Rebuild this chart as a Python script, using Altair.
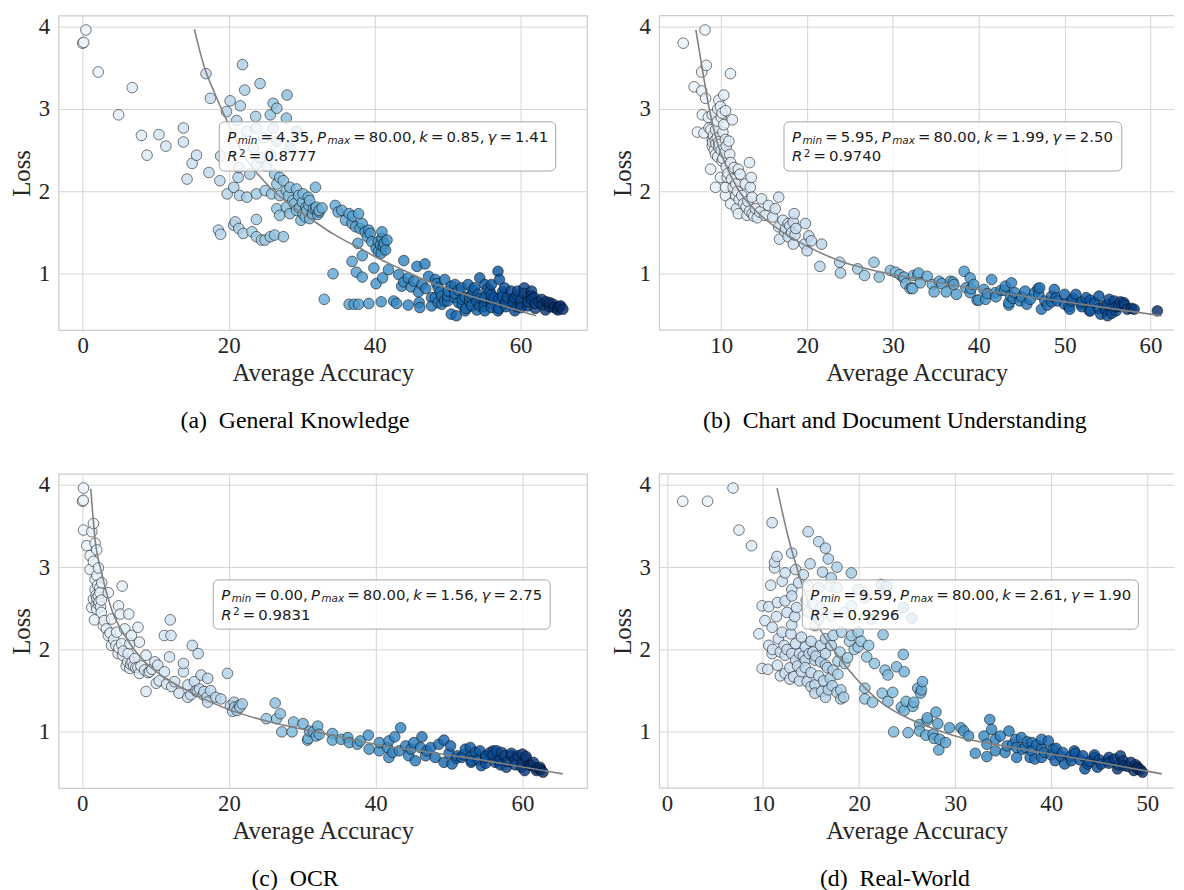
import altair as alt
import pandas as pd

SERIF = "Liberation Serif"
SANS = "DejaVu Sans"

# ---------------- data: (average accuracy, loss) ----------------
GK_POINTS = [
    (0.45, 3.96), (0.0, 3.80), (0.15, 3.81), (2.13, 3.45), (6.79, 3.26), (4.93, 2.93), (8.05, 2.68), (10.45, 2.69),
    (11.4, 2.55), (8.82, 2.44), (13.8, 2.77), (13.8, 2.60), (15.6, 2.44), (15.0, 2.34), (14.3, 2.15), (17.3, 2.23),
    (18.8, 2.13), (16.9, 3.43), (17.5, 3.13), (21.9, 3.54), (22.2, 3.23), (24.3, 3.31), (28.0, 3.17), (20.2, 3.10),
    (21.6, 3.04), (19.7, 2.97), (21.1, 2.86), (23.7, 2.91), (26.1, 3.07), (26.6, 3.01), (25.7, 2.93), (27.9, 2.89),
    (22.5, 2.73), (23.8, 2.77), (24.8, 2.65), (26.1, 2.77), (23.4, 2.53), (24.3, 2.41), (25.7, 2.45), (23.8, 2.33),
    (26.6, 2.61), (28.4, 2.53), (29.3, 2.73), (18.9, 2.43), (21.4, 2.29), (25.2, 2.31), (21.3, 2.17), (22.9, 2.21),
    (19.8, 1.97), (20.7, 2.05), (21.5, 1.95), (22.5, 1.93), (23.8, 1.97), (25.0, 2.01), (25.9, 1.97), (26.6, 2.09),
    (27.5, 2.13), (27.9, 2.01), (28.4, 2.05), (29.3, 2.03), (30.2, 1.97), (31.9, 2.05), (31.1, 1.89), (32.0, 1.81),
    (30.2, 1.73), (29.3, 1.77), (28.4, 1.73), (27.0, 1.71), (27.9, 1.81), (28.8, 1.89), (26.6, 1.79), (30.6, 1.81),
    (31.5, 1.73), (32.4, 1.77), (29.9, 1.65), (31.1, 1.67), (26.3, 2.21), (27.0, 2.17), (23.8, 1.66), (20.9, 1.63),
    (20.7, 1.59), (21.4, 1.55), (22.0, 1.49), (23.2, 1.51), (23.8, 1.45), (24.5, 1.41), (25.0, 1.41), (25.7, 1.45),
    (26.3, 1.47), (27.5, 1.45), (18.6, 1.53), (18.9, 1.48), (34.3, 1.00), (33.1, 0.69), (34.6, 1.83), (35.5, 1.77),
    (30.1, 1.87), (31.0, 1.83), (31.9, 1.79), (32.4, 1.75), (30.5, 1.69), (36.5, 1.73), (37.8, 1.73), (36.0, 1.65),
    (36.9, 1.61), (37.4, 1.57), (38.3, 1.61), (38.7, 1.51), (39.2, 1.53), (39.4, 1.49), (39.6, 1.39), (37.7, 1.37),
    (41.0, 1.51), (40.5, 1.39), (41.2, 1.33), (41.5, 1.29), (40.5, 1.27), (41.7, 1.41), (40.2, 1.31), (41.0, 1.43),
    (36.9, 1.15), (38.3, 1.22), (39.9, 1.07), (37.5, 1.02), (38.3, 0.96), (41.1, 0.95), (40.2, 0.88), (41.9, 1.05),
    (43.7, 0.85), (44.0, 1.16), (43.3, 0.99), (44.6, 0.95), (45.8, 1.09), (46.9, 1.12), (45.4, 0.91), (46.5, 0.87),
    (47.4, 0.97), (48.3, 0.93), (48.7, 0.83), (49.6, 0.93), (48.3, 0.71), (49.2, 0.73), (50.1, 0.79), (51.0, 0.87),
    (51.9, 0.83), (52.8, 0.87), (53.7, 0.83), (54.4, 0.95), (55.1, 0.87), (55.8, 0.79), (56.9, 1.03), (57.1, 0.93),
    (57.8, 0.83), (58.7, 0.79), (59.6, 0.79), (60.5, 0.83), (61.5, 0.79), (61.0, 0.71), (61.9, 0.71), (62.9, 0.69),
    (63.8, 0.63), (64.6, 0.59), (65.5, 0.61), (65.8, 0.57), (65.1, 0.56), (63.4, 0.56), (36.5, 0.63), (37.2, 0.63),
    (37.8, 0.63), (39.2, 0.64), (40.9, 0.66), (42.6, 0.67), (43.0, 0.64), (44.6, 0.62), (46.1, 0.65), (46.2, 0.59),
    (47.8, 0.61), (49.2, 0.63), (50.5, 0.51), (51.2, 0.49), (52.4, 0.55), (53.3, 0.61), (54.4, 0.61), (55.1, 0.55),
    (56.0, 0.59), (56.9, 0.55), (57.8, 0.63), (59.2, 0.55), (60.1, 0.59), (61.0, 0.61), (52.4, 0.71), (53.3, 0.75),
    (51.0, 0.71), (49.6, 0.67), (55.1, 0.71), (56.4, 0.71), (58.2, 0.71), (59.2, 0.71), (56.0, 0.87), (54.2, 0.75),
    (48.7, 0.65), (47.8, 0.71), (49.0, 0.78), (50.0, 0.73), (51.0, 0.76), (52.0, 0.69), (53.0, 0.72), (54.0, 0.66),
    (55.0, 0.68), (56.0, 0.74), (57.0, 0.69), (58.0, 0.66), (59.0, 0.65), (60.0, 0.68), (61.0, 0.66), (62.0, 0.64),
    (63.0, 0.62), (64.0, 0.60), (65.0, 0.58), (52.0, 0.62), (54.0, 0.56), (56.0, 0.64), (58.0, 0.60), (60.0, 0.62),
    (62.0, 0.58), (63.5, 0.66), (64.5, 0.63), (61.5, 0.73), (60.5, 0.76), (59.5, 0.74), (57.5, 0.78), (55.5, 0.82),
    (53.5, 0.80), (51.5, 0.80), (50.5, 0.85), (48.5, 0.88), (47.0, 0.82), (46.0, 0.78), (45.0, 0.84), (44.0, 0.90),
    (29.0, 1.85), (29.7, 1.80), (30.7, 1.77), (31.6, 1.79), (32.8, 1.80), (32.2, 1.72), (30.9, 1.93), (29.6, 1.95),
    (28.2, 1.95), (27.0, 1.95), (40.8, 1.35), (41.3, 1.37), (40.9, 1.25), (39.0, 1.45), (38.0, 1.55), (37.0, 1.70),
    (35.0, 1.75), (50.0, 0.67), (51.5, 0.65), (53.0, 0.67), (54.5, 0.70), (56.0, 0.69), (57.5, 0.72), (59.0, 0.69),
    (61.5, 0.69), (62.5, 0.66), (64.0, 0.65), (65.3, 0.60), (52.5, 0.58), (55.0, 0.60), (57.0, 0.58), (59.5, 0.60),
]
GK_CURVE = [
    (15.3, 3.97), (16.6, 3.53), (18.0, 3.21), (19.8, 2.85), (22.0, 2.45), (24.8, 2.13), (28.4, 1.84), (30.0, 1.74),
    (32.0, 1.62), (34.2, 1.49), (36.0, 1.40), (37.8, 1.32), (40.0, 1.21), (43.3, 1.07), (47.8, 0.89), (52.4, 0.75),
    (56.9, 0.63), (62.1, 0.49),
]

CD_POINTS = [
    (8.12, 3.96), (5.58, 3.80), (8.27, 3.53), (7.73, 3.45), (11.08, 3.43), (6.85, 3.27), (7.73, 3.22), (8.19, 3.13),
    (10.3, 3.17), (9.73, 3.11), (9.92, 3.03), (7.81, 2.93), (8.96, 2.93), (10.1, 2.95), (11.3, 2.87), (9.54, 2.85),
    (7.23, 2.72), (8.0, 2.71), (8.58, 2.77), (9.35, 2.75), (10.3, 2.81), (8.96, 2.63), (9.54, 2.65), (10.5, 2.63),
    (10.9, 2.61), (8.96, 2.55), (9.73, 2.53), (9.35, 2.45), (10.4, 2.47), (8.77, 2.27), (10.1, 2.37), (11.1, 2.35),
    (11.5, 2.29), (12.0, 2.27), (13.3, 2.35), (9.92, 2.17), (10.7, 2.17), (12.2, 2.21), (13.5, 2.17), (9.35, 2.05),
    (10.5, 2.05), (11.7, 2.09), (12.8, 2.09), (13.4, 2.05), (10.5, 1.95), (11.7, 1.95), (12.4, 1.95), (13.6, 1.93),
    (14.7, 1.91), (16.7, 1.93), (11.1, 1.85), (11.8, 1.79), (12.9, 1.81), (14.0, 1.79), (12.0, 1.73), (13.0, 1.71),
    (13.6, 1.73), (15.5, 1.83), (16.3, 1.79), (15.1, 1.71), (16.0, 1.69), (17.2, 1.65), (17.8, 1.61), (18.5, 1.73),
    (18.4, 1.63), (19.8, 1.61), (16.7, 1.57), (17.4, 1.51), (16.8, 1.42), (18.6, 1.47), (18.4, 1.36), (19.7, 1.36),
    (20.2, 1.46), (20.5, 1.40), (20.0, 1.28), (21.7, 1.36), (21.5, 1.09), (23.8, 1.14), (23.9, 1.01), (25.9, 1.06),
    (26.7, 0.98), (27.8, 1.14), (28.4, 0.96), (29.7, 1.04), (30.3, 1.02), (31.3, 0.96), (32.0, 0.82), (32.4, 0.98),
    (31.5, 0.88), (38.3, 1.03), (41.5, 0.93), (32.9, 0.99), (32.3, 0.82), (34.8, 0.78), (37.4, 0.75), (39.1, 0.82),
    (40.0, 0.68), (42.6, 0.80), (43.5, 0.62), (46.9, 0.82), (35.7, 0.88), (37.0, 0.90), (30.8, 0.99), (31.2, 0.95),
    (32.2, 0.83), (33.0, 1.01), (33.2, 0.89), (34.0, 0.97), (34.6, 0.87), (35.4, 0.91), (36.2, 0.78), (36.7, 0.91),
    (37.1, 0.87), (39.0, 0.95), (38.5, 0.83), (39.0, 0.77), (39.8, 0.68), (39.4, 0.87), (40.6, 0.81), (40.8, 0.69),
    (41.9, 0.77), (43.1, 0.85), (43.8, 0.89), (43.5, 0.65), (43.7, 0.73), (44.2, 0.77), (44.8, 0.67), (45.4, 0.79),
    (45.6, 0.63), (46.5, 0.77), (47.1, 0.83), (47.3, 0.57), (47.7, 0.67), (48.5, 0.73), (48.8, 0.81), (49.2, 0.67),
    (50.0, 0.75), (50.6, 0.57), (50.8, 0.67), (51.3, 0.75), (51.9, 0.63), (52.5, 0.71), (52.9, 0.55), (53.5, 0.65),
    (54.0, 0.73), (54.2, 0.51), (54.6, 0.61), (55.2, 0.69), (55.0, 0.49), (55.8, 0.67), (56.0, 0.55), (56.3, 0.61),
    (56.9, 0.65), (57.3, 0.57), (58.1, 0.57), (60.8, 0.55), (45.0, 0.72), (46.0, 0.69), (47.0, 0.75), (48.0, 0.62),
    (49.0, 0.71), (50.0, 0.63), (51.0, 0.70), (52.0, 0.60), (53.0, 0.68), (54.0, 0.58), (55.0, 0.63), (56.0, 0.60),
    (57.0, 0.62), (57.8, 0.58), (53.0, 0.55), (55.5, 0.52), (54.8, 0.56), (56.5, 0.66), (52.0, 0.66), (50.5, 0.60),
    (48.5, 0.66), (44.0, 0.70), (42.0, 0.72), (41.0, 0.76), (43.0, 0.80),
    (8.5, 2.90), (8.8, 2.75), (9.1, 2.68), (9.4, 2.58), (9.7, 2.60), (9.2, 2.50), (9.6, 2.42), (10.0, 2.50),
    (10.2, 2.40), (10.6, 2.30), (10.8, 2.22), (11.2, 2.15), (11.4, 2.05), (11.9, 2.00), (12.1, 1.90), (12.6, 1.85),
    (13.1, 1.88), (13.3, 1.76), (13.8, 1.70), (14.2, 1.68), (14.5, 1.75), (9.0, 2.60), (9.3, 2.62), (9.8, 2.57),
    (10.2, 2.72), (10.6, 2.55), (10.0, 2.90), (10.5, 2.98), (9.6, 3.00), (11.0, 2.45), (17.5, 1.55), (18.0, 1.58),
    (18.2, 1.50), (17.8, 1.45), (18.7, 1.55),
]
CD_CURVE = [
    (7.05, 3.96), (7.8, 3.49), (8.6, 3.01), (9.5, 2.61), (10.5, 2.33), (12.0, 2.02), (14.3, 1.74), (17.4, 1.49),
    (20.1, 1.33), (24.0, 1.15), (27.8, 1.04), (32.8, 0.94), (40.0, 0.81), (50.0, 0.66), (61.3, 0.49),
]

OCR_POINTS = [
    (0.18, 3.96), (0.05, 3.80), (0.15, 3.81), (0.18, 3.45), (1.53, 3.53), (1.31, 3.43), (0.63, 3.26), (1.76, 3.29),
    (1.08, 3.14), (1.98, 3.21), (1.53, 3.07), (1.08, 2.97), (2.21, 2.99), (1.76, 2.85), (2.66, 2.81), (1.76, 2.73),
    (2.43, 2.69), (1.53, 2.61), (2.21, 2.55), (1.31, 2.51), (1.98, 2.49), (3.56, 2.69), (5.45, 2.77), (1.67, 2.36),
    (2.88, 2.29), (4.0, 2.37), (4.95, 2.53), (5.18, 2.43), (6.35, 2.43), (7.6, 2.27), (3.56, 2.17), (4.7, 2.21),
    (5.8, 2.25), (6.7, 2.17), (4.0, 2.05), (5.36, 2.07), (6.5, 2.07), (7.8, 2.09), (4.9, 1.95), (6.26, 1.95),
    (7.16, 1.89), (8.7, 1.93), (9.9, 1.85), (6.5, 1.77), (7.8, 1.71), (9.2, 1.73), (10.3, 1.81), (11.9, 1.91),
    (11.2, 1.73), (8.7, 1.49), (10.1, 1.59), (12.1, 2.17), (11.2, 2.17), (12.0, 2.36), (15.0, 2.05), (15.8, 1.95),
    (13.8, 1.83), (13.8, 1.73), (12.6, 1.61), (13.2, 1.47), (14.4, 1.57), (15.3, 1.61), (16.2, 1.69), (17.1, 1.65),
    (15.7, 1.49), (14.4, 1.42), (16.6, 1.49), (18.2, 1.42), (18.9, 1.40), (17.1, 1.36), (19.8, 1.71), (20.2, 1.32),
    (20.7, 1.36), (21.4, 1.32), (21.8, 1.34), (21.1, 1.26), (25.1, 1.16), (26.3, 1.35), (26.5, 1.16), (27.0, 1.22),
    (27.2, 1.00), (28.6, 1.00), (28.8, 1.12), (30.1, 1.10), (30.8, 0.92), (31.5, 1.00), (2.0, 2.62), (2.3, 2.58),
    (1.9, 2.66), (2.5, 2.52), (2.1, 2.78), (2.6, 2.60), (6.0, 1.80), (6.8, 1.85), (7.3, 1.78), (5.6, 1.98),
    (9.5, 1.76), (15.5, 1.50), (16.0, 1.52), (31.0, 1.01), (32.1, 1.07), (30.7, 0.90), (31.9, 0.95), (32.3, 0.97),
    (34.1, 0.98), (34.1, 0.90), (35.3, 0.91), (36.2, 0.93), (36.4, 0.87), (37.5, 0.85), (37.9, 0.89), (39.0, 0.96),
    (39.1, 0.79), (40.5, 0.77), (40.5, 0.87), (41.6, 0.81), (41.8, 0.89), (42.6, 0.94), (43.4, 1.05), (43.2, 0.77),
    (44.1, 0.83), (44.5, 0.71), (45.2, 0.87), (45.4, 0.65), (46.3, 0.94), (46.1, 0.81), (46.8, 0.71), (47.5, 0.81),
    (48.6, 0.85), (49.3, 0.90), (50.2, 0.83), (49.3, 0.63), (50.4, 0.61), (51.1, 0.71), (52.2, 0.79), (52.9, 0.81),
    (53.1, 0.65), (54.2, 0.77), (54.4, 0.59), (55.6, 0.75), (56.0, 0.77), (56.7, 0.65), (57.2, 0.75), (57.8, 0.57),
    (58.5, 0.71), (59.4, 0.71), (59.9, 0.57), (60.5, 0.67), (61.2, 0.59), (61.9, 0.53), (62.8, 0.51), (62.4, 0.57),
    (60.3, 0.53), (57.6, 0.71), (56.3, 0.63), (55.0, 0.71), (53.6, 0.75), (51.7, 0.69), (48.1, 0.69), (47.0, 0.77),
    (44.8, 0.79), (42.3, 0.75), (41.8, 0.69), (50.0, 0.74), (51.0, 0.68), (52.0, 0.72), (53.0, 0.70), (54.0, 0.66),
    (55.0, 0.69), (56.0, 0.72), (57.0, 0.66), (58.0, 0.64), (59.0, 0.66), (60.0, 0.63), (61.0, 0.60), (62.0, 0.56),
    (62.5, 0.54), (61.5, 0.63), (60.5, 0.70), (59.0, 0.60), (57.0, 0.60), (55.0, 0.62), (53.0, 0.63), (58.5, 0.74),
    (56.5, 0.77), (60.0, 0.73),
    (1.9, 2.55), (2.2, 2.65), (2.4, 2.75), (2.0, 2.90), (2.6, 2.45), (3.0, 2.35), (3.3, 2.25), (3.8, 2.20),
    (4.3, 2.12), (4.6, 2.05), (5.0, 2.02), (5.5, 1.93), (6.2, 1.85), (6.6, 1.82), (7.0, 1.80), (7.6, 1.78),
    (8.0, 1.80), (8.5, 1.75), (9.0, 1.72), (10.5, 1.62), (11.5, 1.58), (12.2, 1.55), (14.8, 1.45), (16.5, 1.45),
    (17.0, 1.42), (17.5, 1.50), (20.8, 1.30), (21.5, 1.30), (20.5, 1.25),
]
OCR_CURVE = [
    (1.17, 3.95), (1.76, 3.33), (2.66, 2.93), (4.0, 2.49), (5.8, 2.17), (8.1, 1.89), (11.2, 1.66), (14.8, 1.48),
    (20.0, 1.27), (25.6, 1.12), (31.9, 1.00), (40.0, 0.85), (52.2, 0.69), (65.5, 0.49),
]

RW_POINTS = [
    (1.65, 3.80), (4.23, 3.80), (6.88, 3.96), (7.5, 3.45), (8.81, 3.26), (10.95, 3.54), (11.46, 3.13), (11.2, 3.06),
    (11.2, 2.99), (12.99, 3.17), (14.7, 3.43), (15.8, 3.31), (16.5, 3.23), (16.8, 3.10), (17.7, 3.00), (19.2, 2.93),
    (14.9, 3.04), (16.2, 2.94), (12.3, 2.93), (13.4, 2.97), (14.2, 2.91), (17.1, 2.87), (12.0, 2.83), (10.8, 2.78),
    (13.0, 2.73), (13.7, 2.81), (14.7, 2.77), (15.8, 2.75), (16.97, 2.77), (17.7, 2.75), (22.3, 2.79), (22.9, 2.77),
    (24.6, 2.51), (25.5, 2.38), (19.9, 2.73), (20.6, 2.63), (19.2, 2.53), (21.3, 2.37), (18.5, 2.45), (9.91, 2.53),
    (10.6, 2.52), (11.5, 2.57), (12.3, 2.59), (13.0, 2.65), (13.5, 2.51), (14.7, 2.45), (15.8, 2.37), (17.1, 2.41),
    (10.2, 2.35), (10.95, 2.27), (9.57, 2.19), (15.4, 2.29), (16.5, 2.13), (17.3, 2.17), (18.2, 2.21), (19.2, 2.17),
    (19.9, 2.21), (22.5, 2.18), (19.9, 2.03), (21.0, 2.05), (24.6, 1.94), (20.8, 1.91), (21.6, 1.83), (22.7, 1.75),
    (23.0, 1.69), (23.9, 1.79), (24.7, 1.73), (12.0, 2.21), (12.9, 2.19), (11.6, 2.13), (10.6, 2.05), (12.2, 2.05),
    (13.4, 2.07), (14.4, 2.03), (15.2, 1.97), (16.5, 1.95), (17.1, 2.05), (18.0, 1.97), (18.5, 1.83), (10.95, 1.95),
    (12.3, 1.93), (13.4, 1.87), (14.4, 1.87), (15.4, 1.87), (16.5, 1.81), (9.91, 1.77), (10.5, 1.76), (11.5, 1.81),
    (12.3, 1.71), (13.2, 1.67), (14.0, 1.73), (14.6, 1.61), (15.4, 1.57), (16.1, 1.49), (16.8, 1.51), (17.0, 1.65),
    (18.1, 1.40), (18.1, 1.51), (15.4, 1.47), (16.5, 1.42), (20.6, 1.53), (20.6, 1.40), (21.4, 1.36), (22.4, 1.47),
    (23.0, 1.37), (23.5, 1.48), (24.4, 1.30), (24.7, 1.26), (25.7, 1.36), (26.1, 1.53), (26.6, 1.61), (26.4, 1.47),
    (23.6, 1.00), (25.1, 0.99), (26.3, 1.01), (26.95, 0.96), (27.1, 1.14), (28.0, 1.24), (27.8, 0.92), (28.3, 0.78),
    (26.5, 1.51), (25.6, 1.31), (24.9, 1.37), (26.3, 1.09), (27.1, 1.17), (27.7, 0.97), (28.2, 1.10), (28.4, 0.91),
    (29.0, 0.87), (29.4, 1.05), (30.6, 1.05), (30.9, 1.01), (31.4, 0.95), (33.6, 1.15), (32.1, 0.74), (33.0, 0.95),
    (33.3, 0.85), (33.8, 1.03), (34.2, 0.91), (33.3, 0.70), (34.2, 0.77), (34.7, 0.95), (35.6, 1.01), (35.4, 0.83),
    (36.3, 0.91), (36.4, 0.69), (36.9, 0.93), (37.3, 0.81), (38.0, 0.87), (38.3, 0.67), (39.0, 0.91), (39.7, 0.89),
    (39.3, 0.75), (40.2, 0.79), (40.4, 0.65), (41.2, 0.75), (42.1, 0.65), (42.4, 0.77), (43.3, 0.71), (43.8, 0.61),
    (44.5, 0.69), (45.2, 0.61), (45.9, 0.65), (46.6, 0.67), (47.2, 0.71), (47.6, 0.59), (48.3, 0.63), (49.0, 0.57),
    (49.5, 0.51), (48.6, 0.53), (46.9, 0.55), (44.8, 0.57), (43.5, 0.55), (41.4, 0.61), (39.0, 0.69), (37.8, 0.69),
    (36.4, 0.81), (35.2, 0.75), (36.0, 0.85), (37.0, 0.79), (38.0, 0.77), (39.0, 0.80), (40.0, 0.72), (41.0, 0.70),
    (42.0, 0.70), (43.0, 0.66), (44.0, 0.64), (45.0, 0.66), (46.0, 0.62), (47.0, 0.60), (48.0, 0.58), (49.0, 0.55),
    (47.5, 0.65), (46.0, 0.69), (44.5, 0.72), (42.5, 0.74), (40.5, 0.80), (38.5, 0.84), (37.5, 0.88), (48.8, 0.60),
    (49.3, 0.54),
    (11.0, 2.00), (11.8, 1.97), (12.5, 2.00), (13.0, 1.95), (13.8, 1.95), (14.2, 1.92), (14.8, 1.95), (15.5, 1.92),
    (16.0, 1.85), (16.7, 1.78), (17.3, 1.75), (17.8, 1.70), (12.8, 1.78), (13.6, 1.80), (14.4, 1.78), (15.0, 1.72),
    (15.8, 1.68), (16.3, 1.62), (17.2, 1.56), (17.7, 1.48), (18.4, 1.42), (15.0, 1.55), (13.8, 1.62), (12.8, 1.64),
    (11.8, 1.68), (19.0, 2.10), (19.5, 2.00), (18.8, 1.90), (20.2, 2.10), (17.8, 1.86), (16.0, 2.05), (15.0, 2.10),
    (14.0, 2.15), (13.0, 2.30), (12.5, 2.45), (14.5, 2.60), (15.2, 2.55), (16.0, 2.50), (11.4, 2.40), (13.3, 2.40),
]
RW_CURVE = [
    (11.46, 3.96), (12.7, 3.33), (13.7, 2.93), (15.4, 2.37), (17.5, 1.97), (19.9, 1.62), (22.6, 1.33), (25.4, 1.15),
    (28.2, 1.02), (30.0, 0.95), (35.0, 0.83), (40.0, 0.73), (45.0, 0.63), (51.5, 0.49),
]

CAPTIONS = ["(a)\u00a0 General Knowledge", "(b)\u00a0 Chart and Document Understanding",
            "(c)\u00a0 OCR", "(d)\u00a0 Real-World"]
FIT_PARAMS = [("4.35", "80.00", "0.85", "1.41"), ("5.95", "80.00", "1.99", "2.50"),
              ("0.00", "80.00", "1.56", "2.75"), ("9.59", "80.00", "2.61", "1.90")]
R2_VALUES = ["0.8777", "0.9740", "0.9831", "0.9296"]
X_TICKS = [[0, 20, 40, 60], [10, 20, 30, 40, 50, 60], [0, 20, 40, 60], [0, 10, 20, 30, 40, 50]]
Y_TICKS = [1, 2, 3, 4]

# ---------------- layout / style ----------------
Y_DOMAIN = [0.317, 4.133]
PLOT_H = 317
# panels (b) and (d) run to the right edge of the page (cropped, no right border)
X_DOMAINS = [[-3.3, 69.1], [2.81, 62.74], [-3.22, 68.8], [-0.78, 52.78]]
WIDTHS = [533, 519, 533, 519]
OPEN_RIGHT = [False, True, False, True]
CAPTION_DX = [-28, -22, -28, -22]
BOX_X = [(18.72, 64.8), (17.32, 56.65), (17.86, 63.78), (14.1, 49.07)]
BOX_Y = (2.845, 2.247)
FRAME = "#cccccc"

BLUES = ["#eaf3fb", "#deebf7", "#c6dbef", "#9ecae1", "#6baed6", "#4292c6", "#2171b5", "#08519c", "#08306b"]

# DejaVu Sans advance widths (em)
DV = {ch: 0.636 for ch in "0123456789"}
DV.update({".": 0.318, ",": 0.318, "=": 0.838, "P": 0.603, "k": 0.579, "γ": 0.592, "R": 0.695,
           "m": 0.974, "i": 0.278, "n": 0.634, "a": 0.613, "x": 0.592})
FS = 15.0
GAP = 0.21
SUB_DROP = 0.18   # em below the baseline
SUP_RISE = 0.33   # em above the baseline


def label_tokens(params, r2):
    pmin, pmax, k, g = params
    G = None
    K = "kern"
    l1 = [("P", True, 1, 0), K, ("min", True, .7, SUB_DROP), G, ("=", False, 1, 0), G, (pmin + ",", False, 1, 0), G,
          ("P", True, 1, 0), K, ("max", True, .7, SUB_DROP), G, ("=", False, 1, 0), G, (pmax + ",", False, 1, 0), G,
          ("k", True, 1, 0), G, ("=", False, 1, 0), G, (k + ",", False, 1, 0), G,
          ("γ", True, 1, 0), G, ("=", False, 1, 0), G, (g, False, 1, 0)]
    l2 = [("R", True, 1, 0), K, ("2", False, .7, -SUP_RISE), G, ("=", False, 1, 0), G, (r2, False, 1, 0)]
    rows = []
    for base, line in ((20.0, l1), (40.0, l2)):
        cx = 8.0
        for t in line:
            if t is None:
                cx += GAP * FS
                continue
            if t == K:
                cx += 1.5
                continue
            s, it, sc, dy = t
            fs = FS * sc
            rows.append(dict(t=s, it=it, fs=fs, px=cx, py=base + dy * FS))
            cx += sum(DV[ch] for ch in s) * fs
    return rows


def panel(i, points, curve):
    xdom = X_DOMAINS[i]
    width = WIDTHS[i]
    pxu_x = width / (xdom[1] - xdom[0])
    pxu_y = PLOT_H / (Y_DOMAIN[1] - Y_DOMAIN[0])

    xs = alt.Scale(domain=xdom, nice=False, zero=False)
    ys = alt.Scale(domain=Y_DOMAIN, nice=False, zero=False)
    xaxis = alt.Axis(values=X_TICKS[i], title="Average Accuracy", format="d")
    yaxis = alt.Axis(values=Y_TICKS, title="Loss", format="d")

    def X(f):
        return alt.X(f, type="quantitative", scale=xs, axis=xaxis)

    def Y(f):
        return alt.Y(f, type="quantitative", scale=ys, axis=yaxis)

    layers = []
    if OPEN_RIGHT[i]:
        fdf = pd.DataFrame({
            "fx": [xdom[0], xdom[0], xdom[0]], "fx2": [xdom[0], xdom[1], xdom[1]],
            "fy": [Y_DOMAIN[0], Y_DOMAIN[1], Y_DOMAIN[0]], "fy2": [Y_DOMAIN[1], Y_DOMAIN[1], Y_DOMAIN[0]],
        })
        layers.append(
            alt.Chart(fdf).mark_rule(color=FRAME, strokeWidth=1.25).encode(
                x=X("fx"), x2="fx2", y=Y("fy"), y2="fy2"
            )
        )

    df = pd.DataFrame(points, columns=["acc", "loss"])
    lo, hi = df["acc"].min(), df["acc"].max()
    df["c"] = (df["acc"] - lo) / (hi - lo)
    df = df.sort_values("acc").reset_index(drop=True)

    pts = alt.Chart(df).mark_circle(
        size=115, fillOpacity=0.82, stroke="#000000", strokeWidth=0.7, strokeOpacity=0.75
    ).encode(
        x=X("acc"), y=Y("loss"),
        color=alt.Color("c:Q", scale=alt.Scale(domain=[0, 1], range=BLUES), legend=None),
    )

    cdf = pd.DataFrame(curve, columns=["acc", "loss"])
    line = alt.Chart(cdf).mark_line(color="#808080", strokeWidth=1.6, interpolate="monotone").encode(
        x=X("acc"), y=Y("loss")
    )

    x0, x1 = BOX_X[i]
    bdf = pd.DataFrame({"x0": [x0], "x1": [x1], "y0": [BOX_Y[0]], "y1": [BOX_Y[1]]})
    box = alt.Chart(bdf).mark_rect(
        fill="white", fillOpacity=0.8, stroke="#a6a6a6", strokeWidth=1, cornerRadius=5
    ).encode(x=X("x0"), x2="x1", y=Y("y0"), y2="y1")

    rows = label_tokens(FIT_PARAMS[i], R2_VALUES[i])
    tdf = pd.DataFrame(rows)
    tdf["tx"] = x0 + tdf["px"] / pxu_x
    tdf["ty"] = BOX_Y[0] - tdf["py"] / pxu_y
    layers += [pts, line, box]
    for italic in (True, False):
        sub = tdf[tdf["it"] == italic][["t", "fs", "tx", "ty"]]
        layers.append(
            alt.Chart(sub).mark_text(
                align="left", baseline="alphabetic", font=SANS,
                fontStyle="italic" if italic else "normal", color="#1a1a1a"
            ).encode(x=X("tx"), y=Y("ty"), text="t:N", size=alt.Size("fs:Q", scale=None))
        )

    view = alt.ViewBackground(stroke="transparent") if OPEN_RIGHT[i] else alt.ViewBackground(
        stroke=FRAME, strokeWidth=1.25)
    return alt.layer(*layers).properties(
        width=width, height=PLOT_H, view=view,
        title=alt.TitleParams(
            text=CAPTIONS[i], orient="bottom", anchor="middle", frame="group", dx=CAPTION_DX[i],
            offset=24, font=SERIF, fontSize=24, fontWeight="normal", color="#000000"
        ),
    )


pa = panel(0, GK_POINTS, GK_CURVE)
pb = panel(1, CD_POINTS, CD_CURVE)
pc = panel(2, OCR_POINTS, OCR_CURVE)
pd_ = panel(3, RW_POINTS, RW_CURVE)

chart = alt.vconcat(
    alt.hconcat(pa, pb, spacing=22),
    alt.hconcat(pc, pd_, spacing=22),
    spacing=38,
).properties(
    padding={"left": 0, "top": 2, "right": 0, "bottom": 0}
).configure_axis(
    labelFont=SERIF, labelFontSize=23, labelColor="#262626",
    titleFont=SERIF, titleFontSize=25, titleFontWeight="normal", titleColor="#262626",
    gridColor="#d5d5d5", gridWidth=1, domain=False, ticks=False, tickSize=0, labelFlush=False,
).configure_axisX(
    labelPadding=5, titlePadding=3
).configure_axisY(
    labelPadding=9, titlePadding=4
)

chart.save("out.html", embed_options={"renderer": "svg", "actions": False})
